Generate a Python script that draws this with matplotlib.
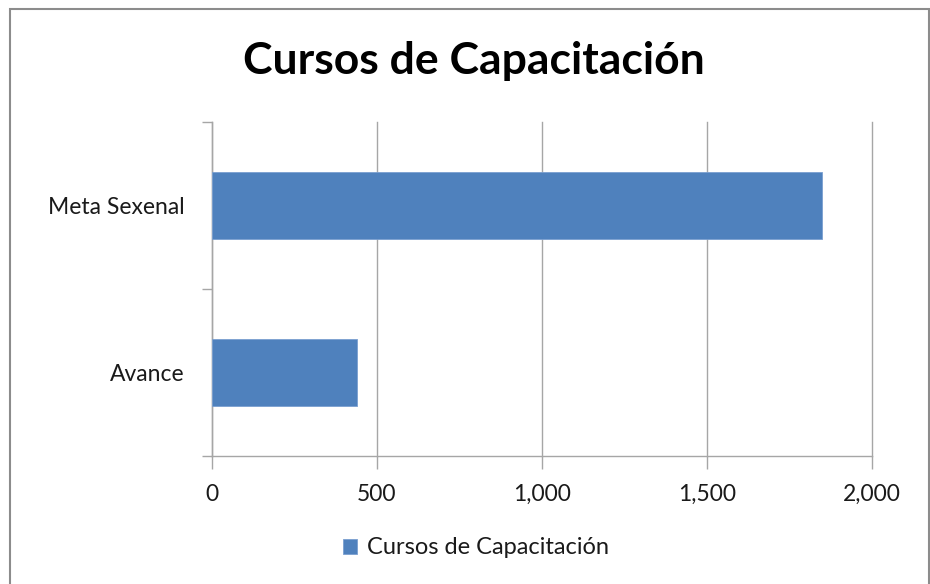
import matplotlib.pyplot as plt
import numpy as np
from matplotlib.patches import Rectangle
from matplotlib.ticker import FuncFormatter

categories = ["Avance", "Meta Sexenal"]
values = [438, 1848]
series_name = "Cursos de Capacitación"
title = "Cursos de Capacitación"

BLUE = "#4F81BD"
GRID = "#A6A6A6"

plt.rcParams["font.family"] = ["Lato", "DejaVu Sans"]

fig = plt.figure(figsize=(9.3, 5.84), dpi=100)
W, H = 930, 584
ax = fig.add_axes([212 / W, 1 - 456 / H, 660 / W, 334 / H])

y = np.arange(len(categories))
ax.barh(y, values, height=0.4, color=BLUE, edgecolor="#7A9FD0", linewidth=0.6,
        label=series_name, zorder=3)

ax.set_xlim(0, 2000)
ax.set_ylim(-0.5, 1.5)
ax.set_xticks(np.arange(0, 2001, 500))
ax.xaxis.set_major_formatter(FuncFormatter(lambda v, p: f"{int(v):,}"))
ax.grid(axis="x", color=GRID, linewidth=1.0, zorder=0)
for gl in ax.get_xgridlines():
    gl.set_clip_on(False)

ax.set_yticks(y)
ax.set_yticklabels(categories)
ax.set_yticks([-0.5, 0.5, 1.5], minor=True)
ax.tick_params(axis="y", which="major", length=0, pad=20, labelsize=16.5, colors="#1a1a1a")
ax.tick_params(axis="y", which="minor", length=7, width=1, color=GRID)
ax.tick_params(axis="x", length=9, width=1, color=GRID, pad=11, labelsize=16.5, labelcolor="#1a1a1a")

for s in ["top", "right"]:
    ax.spines[s].set_visible(False)
for s in ["left", "bottom"]:
    ax.spines[s].set_color(GRID)
    ax.spines[s].set_linewidth(1.0)

fig.text(474 / W, 1 - 61 / H, title, ha="center", va="center",
         fontsize=32, fontweight="bold", color="black")

leg = fig.legend(loc="center", bbox_to_anchor=(476 / W, 1 - 548 / H), frameon=False,
                 fontsize=17, handlelength=0.6, handleheight=0.6, handletextpad=0.4)
for t in leg.get_texts():
    t.set_color("#1a1a1a")

# chart frame
fig.patches.append(Rectangle((10 / W, -0.01), 919 / W, 1 - 9 / H + 0.01,
                             transform=fig.transFigure, fill=False,
                             edgecolor="#8C8C8C", linewidth=1.5))

fig.savefig("out.png", dpi=100)
